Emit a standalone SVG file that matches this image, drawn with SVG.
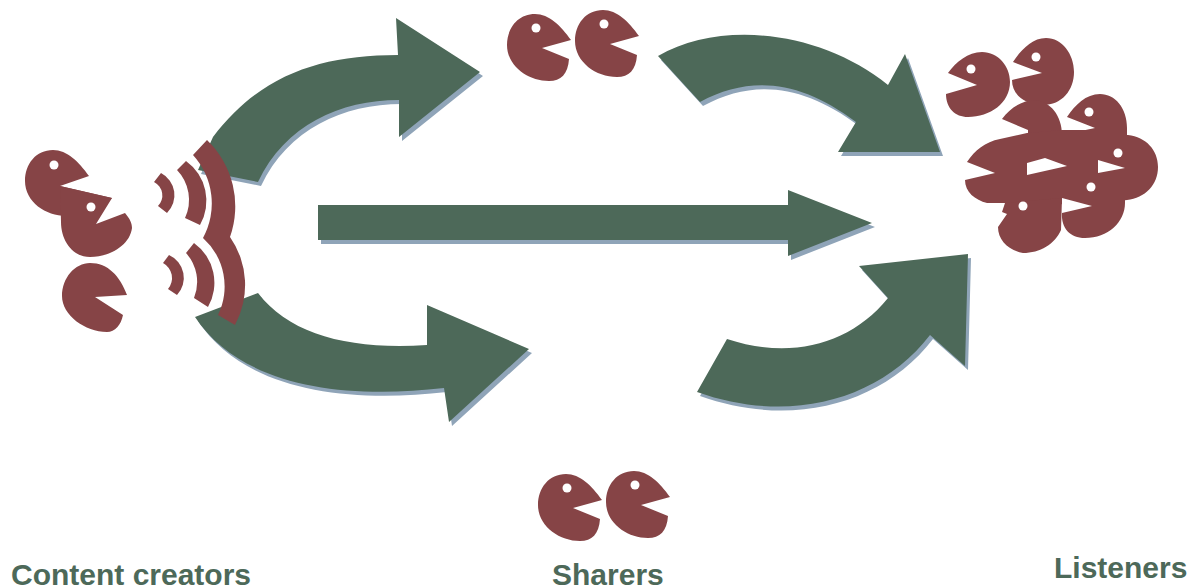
<svg xmlns="http://www.w3.org/2000/svg" width="1195" height="588" viewBox="0 0 1195 588">
<style>
.arrow{fill:#4d6959}
.shadow{fill:#8fa4b8}
.pac{fill:#864446}
.eye{fill:#fff}
.hole{fill:#fff}
.wave{fill:#864446}
text{font-family:"Liberation Sans",Arial,sans-serif;font-weight:700;font-size:30px;fill:#4d6959}
</style>
<defs>
<path id="a1" d="M198,170 L213,137 C260,75 320,55 398,55 L396,18 L480,72 L399,137 L399,100 C340,100 285,125 258,182 Z"/>
<path id="a2" d="M195,317 L258,293 C290,335 350,350 427,345 L427,305 L529,349 L449,422 L444,388 C340,400 240,385 195,317 Z"/>
<path id="a3" d="M318,205 H788 V190 L872,223 L788,256 V240 H318 Z"/>
<path id="a4" d="M658,56 C720,20 820,30 888,85 L905,54 L940,152 L838,152 L856,122 C800,80 750,75 700,102 Z"/>
<path id="a5" d="M697,392 L727,339 C790,360 850,345 888,298 L859,266 L968,254 L965,366 L930,335 C880,400 790,425 697,392 Z"/>
<g id="pacR"><path class="pac" d="M542,48 L571,40 C561,26 549,14 535,14 C518,14 507,28 507,45 C507,66 528,81 549,81 C561,81 568,74 569,59 Z"/><circle class="eye" cx="536" cy="28" r="4.5"/></g>
</defs>
<rect width="1195" height="588" fill="#fff"/>
<g id="connectors">
<use href="#a1" class="shadow" x="3" y="4"/><use href="#a2" class="shadow" x="3" y="4"/><use href="#a3" class="shadow" x="3" y="4"/><use href="#a4" class="shadow" x="3" y="4"/><use href="#a5" class="shadow" x="3" y="4"/>
<use href="#a1" class="arrow"/><use href="#a2" class="arrow"/><use href="#a3" class="arrow"/><use href="#a4" class="arrow"/><use href="#a5" class="arrow"/>
</g>
<g id="waves">
<path class="wave" d="M193,155 L207,140 A92,92 0 0 1 230,237 A84,84 0 0 1 235,325 L218,315 A65,65 0 0 0 203,238 A72,72 0 0 0 193,155 Z"/>
<path class="wave" d="M177,170 L186,161 A49,49 0 0 1 200,225 L185,218 A43,43 0 0 0 177,170 Z"/>
<path class="wave" d="M154,182 L161,173 A25,25 0 0 1 167,213 L158,206 A15,15 0 0 0 154,182 Z"/>
<path class="wave" d="M186,253 L194,243 A49,49 0 0 1 208,307 L194,298 A43,43 0 0 0 186,253 Z"/>
<path class="wave" d="M163,263 L169,255 A25,25 0 0 1 177,295 L168,289 A17,17 0 0 0 163,263 Z"/>
</g>
<g id="creators">
<g id="creator-1"><path class="pac" d="M60,186 L89,176 C79,162 67,150 53,150 C36,150 25,164 25,181 C25,202 46,216 66,216 L95,216 L112,198 Z"/><circle class="eye" cx="54" cy="165" r="4.5"/></g>
<g id="creator-2"><path class="pac" d="M60,186 L112,198 L96,224 L125,213 C130,219 132,223 132,228 C130,245 110,257 90,257 C72,257 61,240 61,222 Z"/><circle class="eye" cx="91" cy="207" r="4.5"/></g>
<g id="creator-3"><path class="pac" d="M95,297 L127,295 C120,276 108,263 90,263 C75,263 62,278 62,296 C62,315 85,332 107,332 C115,332 121,325 123,315 Z"/></g>
</g>
<g id="sharers-top">
<use id="sharer-1" href="#pacR"/>
<use id="sharer-2" href="#pacR" x="68" y="-4"/>
</g>
<g id="sharers-bottom">
<use id="sharer-3" href="#pacR" x="31" y="460"/>
<use id="sharer-4" href="#pacR" x="99" y="457"/>
</g>
<g id="listeners">
<g id="listener-1"><path class="pac" d="M977,85 L948,73 C956,62 968,52 982,52 C998,52 1010,66 1010,82 C1010,103 990,117 968,117 C955,117 946,108 946,94 Z"/><circle class="eye" cx="971" cy="69" r="4.5"/></g>
<g id="listener-2"><path class="pac" d="M1042,73 L1013,62 C1021,50 1032,38 1046,38 C1062,38 1074,54 1074,72 C1074,90 1062,105 1043,105 C1025,105 1012,95 1012,80 Z"/><circle class="eye" cx="1036" cy="57" r="4.5"/></g>
<g id="listener-3"><path class="pac" d="M1028,130 L1002,119 C1010,108 1022,100 1036,100 C1050,102 1062,115 1062,135 L1062,170 L1028,170 Z"/></g>
<g id="listener-4"><path class="pac" d="M1095,128 L1067,117 C1075,105 1086,94 1100,94 C1115,94 1127,108 1127,128 L1127,150 L1062,150 L1062,135 Z"/><circle class="eye" cx="1089" cy="112" r="4.5"/></g>
<g id="listener-5"><path class="pac" d="M995,173 L967,162 C975,150 985,142 1000,139 L1027,133 L1062,130 L1100,130 L1100,205 L1007,203 L987,203 C975,200 965,192 965,180 Z"/></g>
<g id="listener-6"><path class="pac" d="M1090,135 L1128,135 C1146,137 1158,150 1158,167 C1158,185 1145,198 1127,200 L1090,205 Z"/></g>
<g id="listener-7"><path class="pac" d="M1062,213 C1061,228 1070,238 1085,238 C1108,238 1125,222 1125,203 L1125,175 L1062,175 Z"/></g>
<g id="listener-8"><path class="pac" d="M1005,203 L1062,198 L1061,230 C1055,244 1040,253 1023,253 C1008,250 998,240 998,227 L1007,214 L1002,212 Z"/></g>
<path class="hole" d="M1027,163 L1045,158 L1067,166 L1027,175 Z"/>
<path class="hole" d="M1098,160 L1125,168 L1098,173 Z"/>
<path class="hole" d="M1062,198 L1092,206 L1062,213 Z"/>
<circle class="eye" cx="1118" cy="153" r="4.5"/><circle class="eye" cx="1091" cy="187" r="4.5"/><circle class="eye" cx="1023" cy="206" r="4.5"/>
</g>
<g id="labels">
<text x="11" y="585">Content creators</text>
<text x="552" y="585">Sharers</text>
<text x="1054" y="578">Listeners</text>
</g>
</svg>
